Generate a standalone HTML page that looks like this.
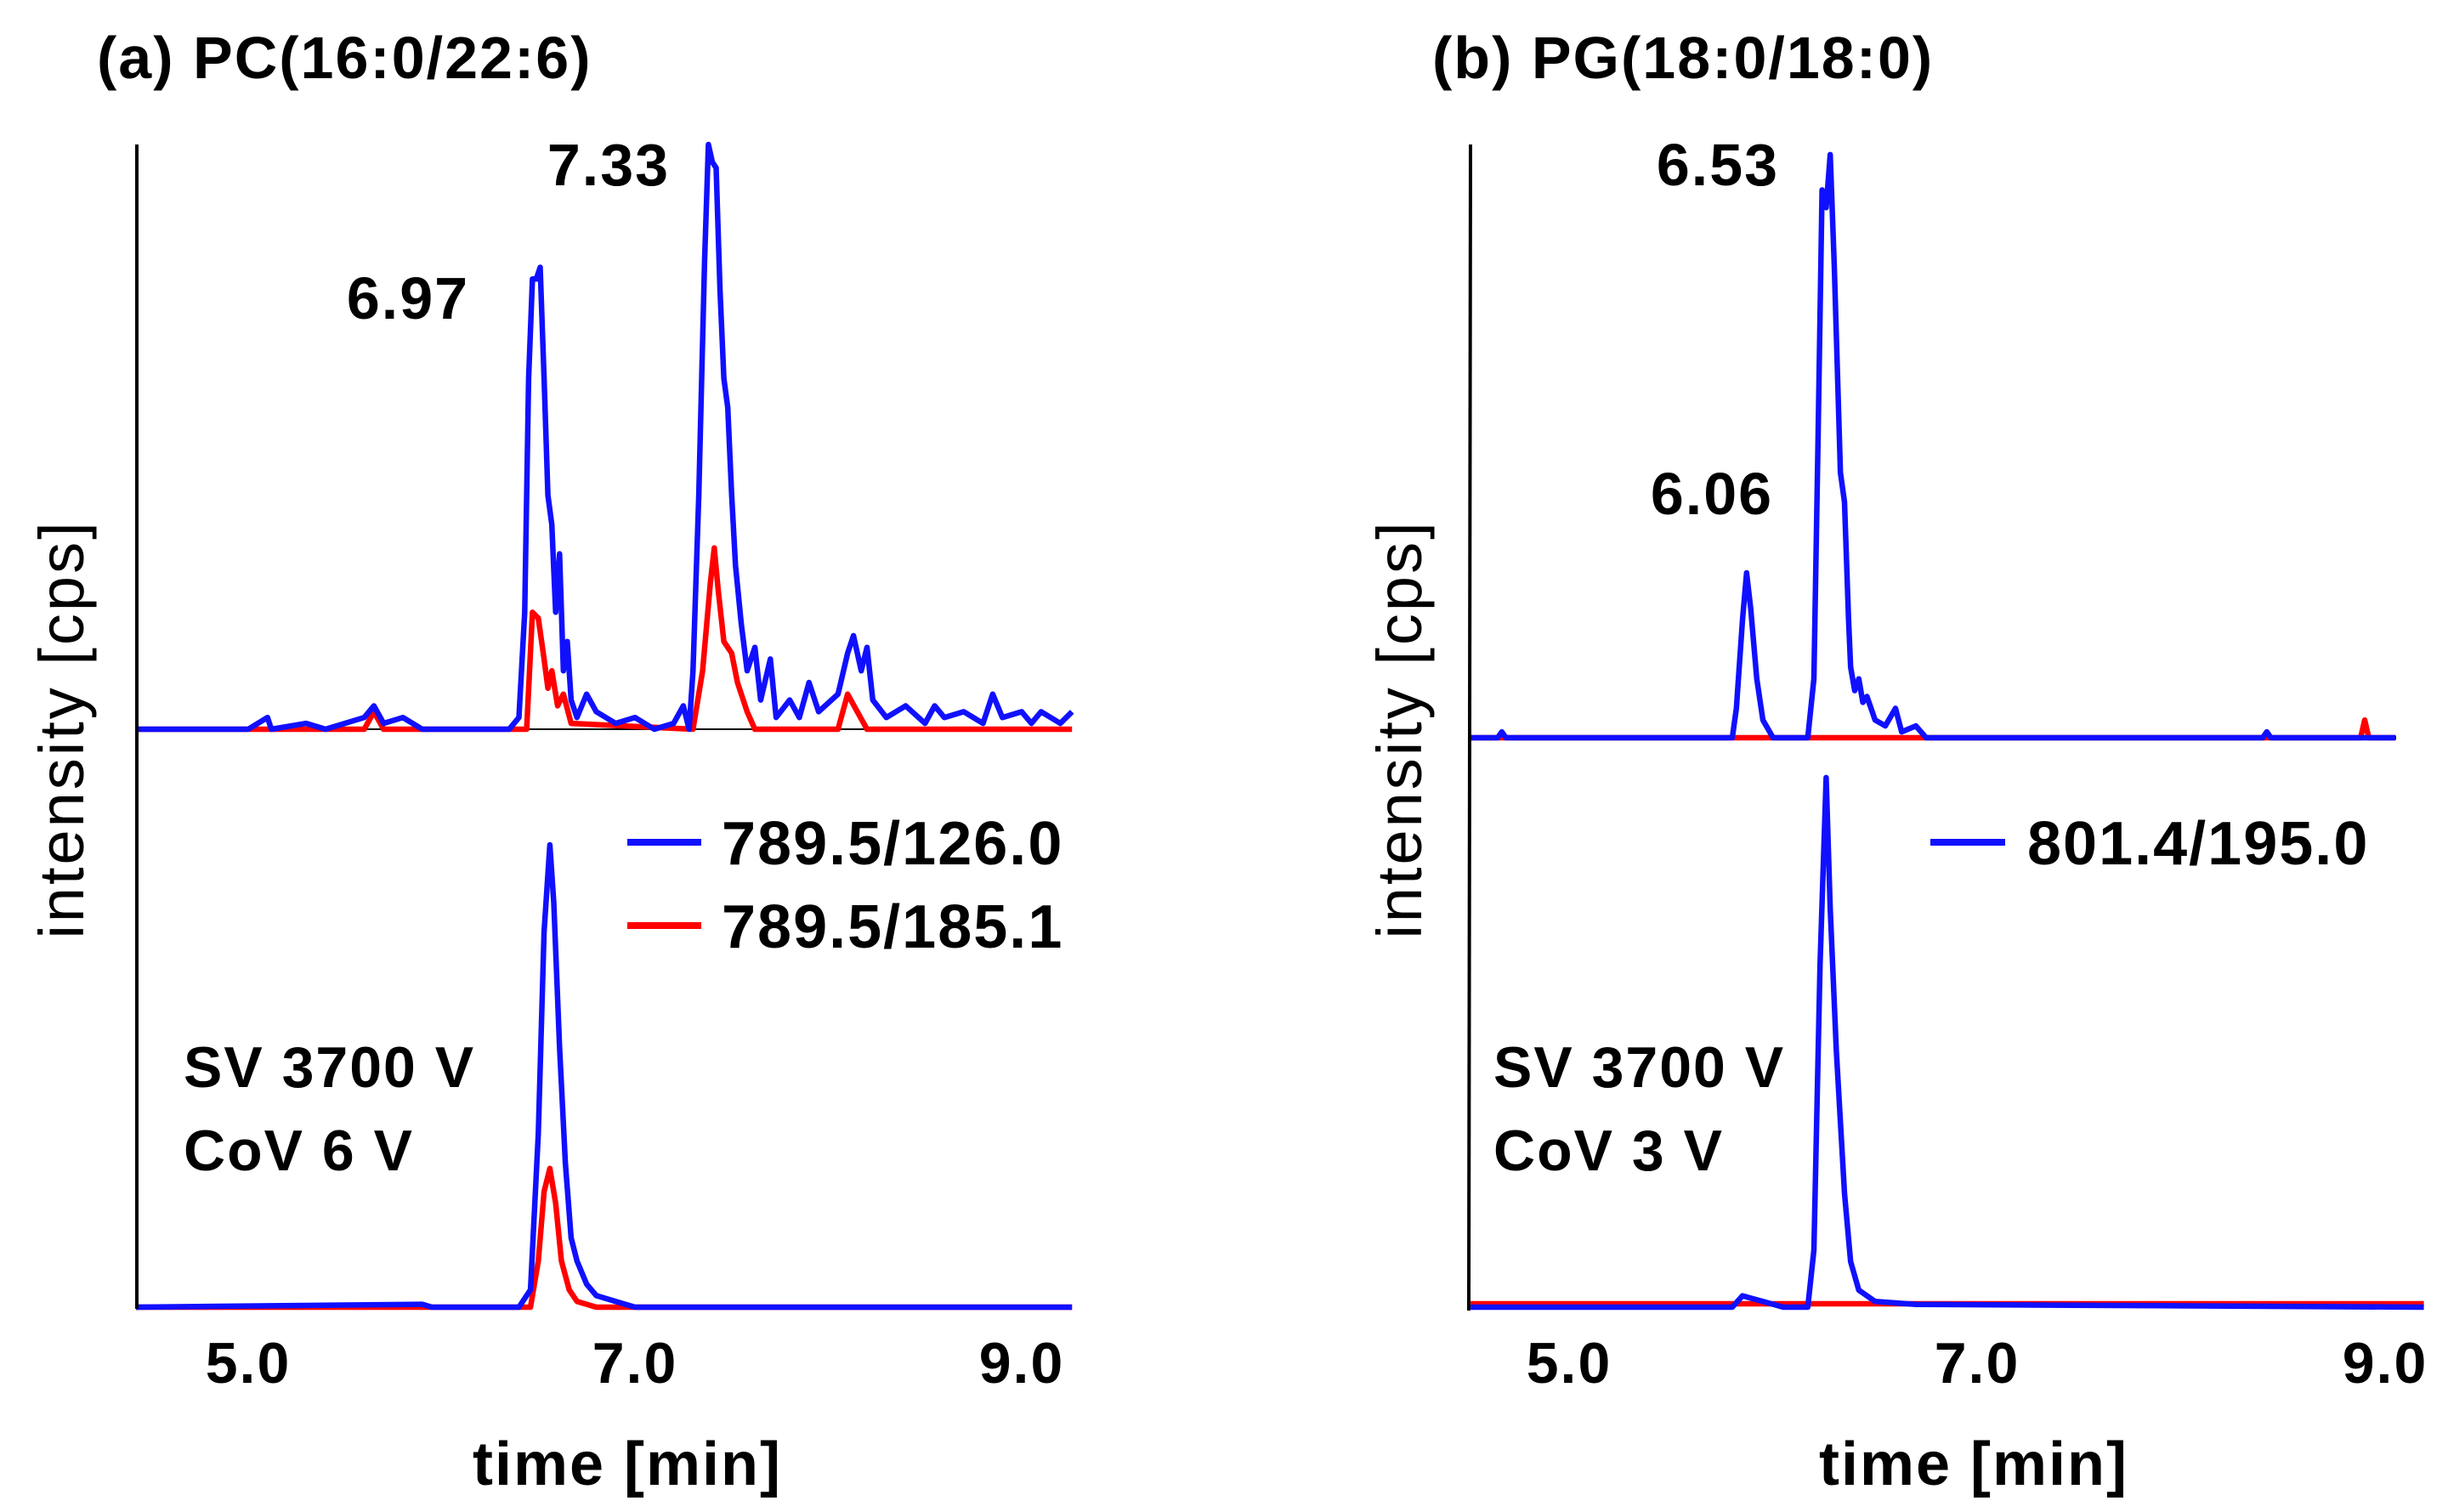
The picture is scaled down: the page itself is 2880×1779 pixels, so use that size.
<!DOCTYPE html>
<html><head><meta charset="utf-8"><style>
html,body{margin:0;padding:0;background:#fff;}
svg{display:block;font-family:"Liberation Sans",sans-serif;}
</style></head><body>
<svg id="chart" width="2880" height="1779" viewBox="0 0 2880 1779">
<g id="gA"></g>
<g id="gB"></g>
</svg>
<script>
// ---- data (time [min], relative intensity 0-100) ----
const aUpperBlueT=[4.42,5.0,5.1,5.12,5.3,5.4,5.6,5.65,5.7,5.8,5.9,6.2,6.35,6.40,6.43,6.45,6.47,6.49,6.51,6.53,6.55,6.57,6.59,6.61,6.63,6.65,6.67,6.70,6.75,6.8,6.9,7.0,7.1,7.2,7.25,7.28,7.3,7.33,7.36,7.38,7.40,7.42,7.44,7.46,7.48,7.50,7.52,7.55,7.58,7.62,7.65,7.7,7.73,7.8,7.85,7.9,7.95,8.05,8.1,8.13,8.17,8.2,8.23,8.3,8.4,8.5,8.55,8.6,8.7,8.8,8.85,8.9,9.0,9.05,9.1,9.2,9.26];
const aUpperBlueV=[0,0,2,0,1,0,2,4,1,2,0,0,0,2,20,60,77,77,79,60,40,35,20,30,10,15,5,2,6,3,1,2,0,1,4,0,10,40,80,100,97,96,75,60,55,40,28,18,10,14,5,12,2,5,2,8,3,6,13,16,10,14,5,2,4,1,4,2,3,1,6,2,3,1,3,1,3];
const aUpperRedT=[4.42,5.6,5.65,5.7,6.44,6.47,6.50,6.53,6.55,6.57,6.6,6.63,6.67,7.3,7.35,7.39,7.41,7.43,7.46,7.5,7.53,7.58,7.62,8.05,8.1,8.15,8.2,9.26];
const aUpperRedV=[0,0,3,0,0,20,19,12,7,10,4,6,1,0,10,25,31,24,15,13,8,3,0,0,6,3,0,0];
const aLowerBlueT=[4.42,5.9,5.95,6.4,6.46,6.50,6.53,6.56,6.58,6.61,6.64,6.67,6.70,6.75,6.8,6.9,7.0,9.26];
const aLowerBlueV=[0,0.5,0,0,3,30,65,80,70,45,25,12,8,4,2,1,0,0];
const aLowerRedT=[4.42,6.46,6.5,6.53,6.56,6.59,6.62,6.66,6.7,6.8,9.26];
const aLowerRedV=[0,0,8,20,24,18,8,3,1,0,0];
const bUpperBlueT=[4.517,4.65,4.67,4.69,5.8,5.82,5.85,5.87,5.89,5.92,5.95,6.0,6.17,6.2,6.22,6.24,6.26,6.28,6.30,6.33,6.35,6.37,6.38,6.40,6.42,6.44,6.46,6.5,6.55,6.6,6.63,6.7,6.75,8.4,8.42,8.44,9.05];
const bUpperBlueV=[0,0,1,0,0,5,20,28,22,10,3,0,0,10,50,93,90,99,80,45,40,20,12,8,10,6,7,3,2,5,1,2,0,0,1,0,0];
const bUpperRedT=[4.517,8.88,8.9,8.92,9.05];
const bUpperRedV=[0,0,3,0,0];
const bLowerBlueT=[4.517,5.8,5.85,5.9,5.95,6.05,6.17,6.2,6.23,6.26,6.28,6.31,6.35,6.38,6.42,6.5,6.7,9.19];
const bLowerBlueV=[0,0,2,1.5,1,0,0,10,60,93,70,45,20,8,3,1,0.5,0];
const bLowerRedT=[4.517,9.19];
const bLowerRedV=[0.6,0.6];
const aTicks=["5.0","7.0","9.0"];
const aTickVals=[5,7,9];
const bTicks=["5.0","7.0","9.0"];
const bTickVals=[5,7,9];

const NS="http://www.w3.org/2000/svg";
function mk(parent,tag,attrs,text){const e=document.createElementNS(NS,tag);for(const k in attrs)e.setAttribute(k,attrs[k]);if(text!==undefined)e.textContent=text;parent.appendChild(e);return e;}
function linScale(d0,d1,r0,r1){return v=>r0+(v-d0)/(d1-d0)*(r1-r0);}
function series(g,T,V,xs,ys,color,name){
  const d=T.map((t,i)=>(i?"L":"M")+xs(t).toFixed(1)+","+ys(V[i]).toFixed(1)).join(" ");
  const p=mk(g,"path",{d:d,fill:"none",stroke:color,"stroke-width":6.5,"stroke-linejoin":"round"});
  
  
}
function txt(g,x,y,s,size,weight,anchor,name,extra){
  const t=mk(g,"text",Object.assign({x:x,y:y,"font-size":size,"font-weight":weight,"text-anchor":anchor,fill:"#000"},extra||{}),s);
  
  
  return t;
}
const LS={"letter-spacing":2};

// ---- panel a ----
(function(){
  const g=document.getElementById("gA");
  const xs=linScale(5,9,292,1202);
  const yU=linScale(0,100,858,170);
  const yL=linScale(0,100,1538,858);
  const l1=mk(g,"line",{x1:161,y1:858,x2:1261,y2:858,stroke:"#000","stroke-width":2});
  
  
  series(g,aUpperRedT,aUpperRedV,xs,yU,"#ff0000","upper-red-trace");
  series(g,aUpperBlueT,aUpperBlueV,xs,yU,"#1010ff","upper-blue-trace");
  series(g,aLowerRedT,aLowerRedV,xs,yL,"#ff0000","lower-red-trace");
  series(g,aLowerBlueT,aLowerBlueV,xs,yL,"#1010ff","lower-blue-trace");
  const ax=mk(g,"line",{x1:161,y1:170,x2:161,y2:1540,stroke:"#000","stroke-width":4});
  
  
  aTickVals.forEach((v,i)=>txt(g,xs(v),1627,aTicks[i],68,"bold","middle","x-tick-label",LS));
  txt(g,114,92,"(a) PC(16:0/22:6)",70,"bold","start","panel-a-title",LS);
  txt(g,480,375,"6.97",70,"bold","middle","peak-label-6-97",LS);
  txt(g,716,218,"7.33",70,"bold","middle","peak-label-7-33",LS);
  txt(g,738,1747,"time [min]",72,"bold","middle","x-axis-title",LS);
  txt(g,0,0,"intensity [cps]",74,"normal","middle","y-axis-title",{transform:"translate(98,858) rotate(-90)","letter-spacing":3});
  const lb=mk(g,"line",{x1:738,y1:991,x2:825,y2:991,stroke:"#1010ff","stroke-width":8});
  
  
  txt(g,849,1017,"789.5/126.0",72,"bold","start","legend-entry-blue",LS);
  const lr=mk(g,"line",{x1:738,y1:1089,x2:825,y2:1089,stroke:"#ff0000","stroke-width":8});
  
  
  txt(g,849,1115,"789.5/185.1",72,"bold","start","legend-entry-red",LS);
  txt(g,216,1279,"SV 3700 V",68,"bold","start","sv-label",LS);
  txt(g,216,1377,"CoV 6 V",68,"bold","start","cov-label",LS);
})();

// ---- panel b ----
(function(){
  const g=document.getElementById("gB");
  const xs=linScale(5,9,1846,2806);
  const yU=linScale(0,100,868,175);
  const yL=linScale(0,100,1538,868);
  const l1=mk(g,"line",{x1:1730,y1:868,x2:2819,y2:868,stroke:"#000","stroke-width":5});
  
  
  series(g,bUpperRedT,bUpperRedV,xs,yU,"#ff0000","upper-red-trace");
  series(g,bUpperBlueT,bUpperBlueV,xs,yU,"#1010ff","upper-blue-trace");
  series(g,bLowerRedT,bLowerRedV,xs,yL,"#ff0000","lower-red-trace");
  series(g,bLowerBlueT,bLowerBlueV,xs,yL,"#1010ff","lower-blue-trace");
  const ax=mk(g,"line",{x1:1730,y1:170,x2:1728,y2:1542,stroke:"#000","stroke-width":4});
  
  
  bTickVals.forEach((v,i)=>txt(g,xs(v),1627,bTicks[i],68,"bold","middle","x-tick-label",LS));
  txt(g,1685,92,"(b) PG(18:0/18:0)",70,"bold","start","panel-b-title",LS);
  txt(g,2021,218,"6.53",70,"bold","middle","peak-label-6-53",LS);
  txt(g,2014,605,"6.06",70,"bold","middle","peak-label-6-06",LS);
  txt(g,2322,1747,"time [min]",72,"bold","middle","x-axis-title",LS);
  txt(g,0,0,"intensity [cps]",74,"normal","middle","y-axis-title",{transform:"translate(1672,858) rotate(-90)","letter-spacing":3});
  const lb=mk(g,"line",{x1:2271,y1:991,x2:2359,y2:991,stroke:"#1010ff","stroke-width":8});
  
  
  txt(g,2385,1017,"801.4/195.0",72,"bold","start","legend-entry-blue",LS);
  txt(g,1757,1279,"SV 3700 V",68,"bold","start","sv-label",LS);
  txt(g,1757,1377,"CoV 3 V",68,"bold","start","cov-label",LS);
})();
</script>
</body></html>
